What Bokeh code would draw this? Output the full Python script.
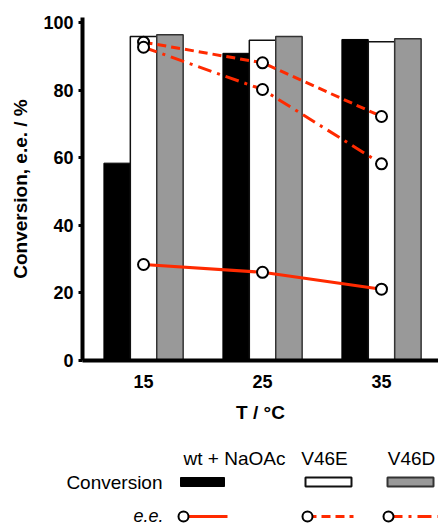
from bokeh.plotting import figure
from bokeh.models import Range1d, FixedTicker
from bokeh.layouts import column
from bokeh.core.properties import value
from bokeh.embed import file_html
from bokeh.resources import INLINE

temps = ["15", "25", "35"]
conv_wt = [58.4, 90.9, 95.0]
conv_v46e = [95.9, 94.8, 94.3]
conv_v46d = [96.4, 95.9, 95.2]
ee_wt = [28.4, 26.1, 21.1]
ee_v46e = [94.2, 88.1, 72.2]
ee_v46d = [92.7, 80.2, 58.2]
y_ticks = [0, 20, 40, 60, 80, 100]
series_names = ["wt + NaOAc", "V46E", "V46D"]

RED = "#ff2a00"
FONT = "Liberation Sans"
x = list(range(len(temps)))
bw = 0.222

p = figure(width=438, height=430, x_range=Range1d(-0.513, 2.479), y_range=Range1d(0, 101.5),
           output_backend="svg", toolbar_location=None,
           min_border_left=82, min_border_right=0, min_border_top=17, min_border_bottom=70)
p.frame_align = False
p.outline_line_color = None
p.grid.visible = False
p.background_fill_color = "white"
p.border_fill_color = "white"

p.vbar(x=[i - bw for i in x], top=conv_wt, width=bw, fill_color="black", line_color="black", line_width=1)
p.vbar(x=x, top=conv_v46e, width=bw, fill_color="white", line_color="#111111", line_width=1.5)
p.vbar(x=[i + bw for i in x], top=conv_v46d, width=bw, fill_color="#999999", line_color="#333333", line_width=1.5)

p.line(x, ee_wt, line_color=RED, line_width=3)
p.line(x, ee_v46e, line_color=RED, line_width=3, line_dash="9 5")
p.line(x, ee_v46d, line_color=RED, line_width=3, line_dash="14 6 3 6")
for ys in (ee_wt, ee_v46e, ee_v46d):
    p.scatter(x, ys, size=11, fill_color="white", line_color="black", line_width=2)

p.yaxis.ticker = FixedTicker(ticks=y_ticks)
p.xaxis.ticker = FixedTicker(ticks=x)
p.xaxis.major_label_overrides = {i: t for i, t in enumerate(temps)}
for ax in (p.xaxis[0], p.yaxis[0]):
    ax.axis_line_width = 4
    ax.axis_line_color = "black"
    ax.minor_tick_out = 0
    ax.minor_tick_in = 0
    ax.major_label_text_font = FONT
    ax.major_label_text_font_style = "bold"
    ax.major_label_text_font_size = "18px"
    ax.major_label_text_color = "black"
    ax.axis_label_text_font = FONT
    ax.axis_label_text_font_style = "bold"
    ax.axis_label_text_font_size = "19px"
    ax.axis_label_text_color = "black"
p.yaxis.major_tick_out = 4
p.yaxis.major_tick_in = 0
p.yaxis.major_tick_line_width = 3
p.yaxis.major_label_standoff = 5
p.yaxis.axis_label = "Conversion, e.e. / %"
p.yaxis.axis_label_standoff = 9
p.xaxis.major_tick_out = 0
p.xaxis.major_tick_in = 0
p.xaxis.major_label_standoff = 14
p.xaxis.axis_label = "T / °C"
p.xaxis.axis_label_standoff = 11

# legend panel (coordinates: x in page px, y measured up from panel bottom)
H = 97
top0 = 430
def Y(py):
    return top0 + H - py

lg = figure(width=438, height=H, x_range=Range1d(0, 438), y_range=Range1d(0, H),
            output_backend="svg", toolbar_location=None,
            min_border=0, x_axis_type=None, y_axis_type=None)
lg.frame_align = False
lg.outline_line_color = None
lg.grid.visible = False
lg.background_fill_color = "white"
lg.border_fill_color = "white"

lg.text(x=[234, 324, 411], y=[Y(458)] * 3, text=series_names, text_font=value(FONT),
        text_font_size="19px", text_align="center", text_baseline="middle", text_color="black")
lg.text(x=[162], y=[Y(482)], text=["Conversion"], text_font=value(FONT),
        text_font_size="19px", text_align="right", text_baseline="middle", text_color="black")
lg.text(x=[163], y=[Y(515)], text=["e.e."], text_font=value(FONT), text_font_style="italic",
        text_font_size="18px", text_align="right", text_baseline="middle", text_color="black")

sw_l = [180, 305, 387]
sw_r = [224, 351, 433]
lg.quad(left=sw_l[0], right=sw_r[0], top=Y(477), bottom=Y(486), fill_color="black", line_color="black")
lg.quad(left=sw_l[1], right=sw_r[1], top=Y(477), bottom=Y(486), fill_color="white", line_color="#111111", line_width=2)
lg.quad(left=sw_l[2], right=sw_r[2], top=Y(477), bottom=Y(486), fill_color="#999999", line_color="#333333", line_width=2)

mk = [183, 307, 388]
ends = [227, 353, 440]
dashes = ["solid", "9 5", "14 6 3 6"]
for m, e, d in zip(mk, ends, dashes):
    lg.line([m, e], [Y(516), Y(516)], line_color=RED, line_width=3, line_dash=d)
lg.scatter(mk, [Y(516)] * 3, size=10, fill_color="white", line_color="black", line_width=2)

layout = column(p, lg, spacing=0)
open("out.html", "w").write(file_html(layout, INLINE))
